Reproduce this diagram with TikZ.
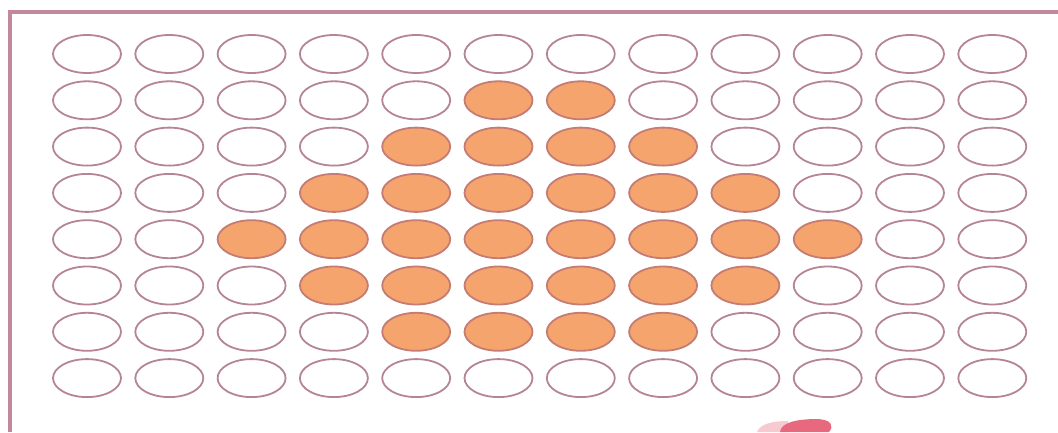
\documentclass[tikz,border=0pt]{standalone}
\usepackage{tikz}
\usetikzlibrary{shapes.geometric}

\definecolor{rim}{HTML}{B58496}
\definecolor{litfill}{HTML}{F4A46C}
\definecolor{litrim}{HTML}{C47C74}
\definecolor{framecol}{HTML}{C3889C}
\definecolor{blobcol}{HTML}{E8687E}

\tikzset{
	hole/.style={ellipse,draw=rim,line width=1.8pt,fill=white,
		minimum width=68pt,minimum height=38pt,inner sep=0pt},
	lit/.style={hole,draw=litrim,fill=litfill},
}

\begin{document}
\begin{tikzpicture}[x=1pt,y=-1pt]
	\useasboundingbox (0,0) rectangle (1058,432);
	\draw[framecol,line width=3.5pt] (10,432) -- (10,12) -- (1058,12);
	\foreach \r in {1,...,8}
		\foreach \c in {1,...,12} {
			\pgfmathtruncatemacro\on{and(and(\r>1,\r<8),abs(\c-6.5)<=3.5-abs(\r-5))}
			\ifnum\on=1
				\node[lit] (h\r-\c) at ({87+82.3*(\c-1)},{54+46.3*(\r-1)}) {};
			\else
				\node[hole] (h\r-\c) at ({87+82.3*(\c-1)},{54+46.3*(\r-1)}) {};
			\fi
		}
	% logo, cut off at the page edge
	\fill[blobcol!35] (757,432) .. controls (760,424) and (772,421) .. (788,421) -- (788,432) -- cycle;
	\fill[blobcol] (780,432) .. controls (781,422) and (798,419) .. (818,419)
		.. controls (832,420) and (834,426) .. (829,432) -- cycle;
\end{tikzpicture}
\end{document}
